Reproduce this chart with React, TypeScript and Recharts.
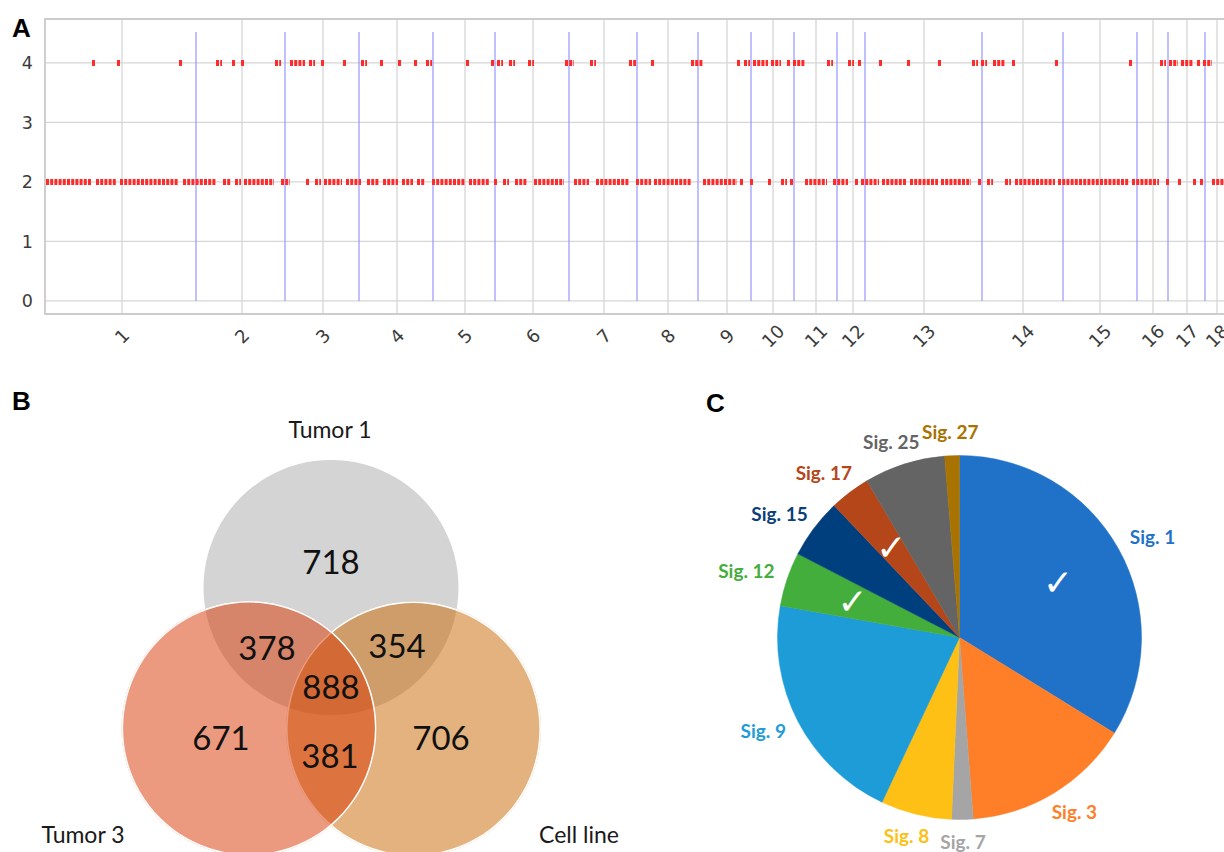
import React from 'react';
import {
  ComposedChart,
  XAxis,
  YAxis,
  CartesianGrid,
  ReferenceLine,
  ReferenceArea,
  PieChart,
  Pie,
  Cell,
} from 'recharts';

// ---- panel A: copy number along the genome (x = genome bin position) ----
const chromLabels = ['1', '2', '3', '4', '5', '6', '7', '8', '9', '10', '11', '12', '13', '14', '15', '16', '17', '18'];
const chromCenters = [122, 242, 323, 397, 465, 533, 604, 668, 727, 773, 816, 853, 924, 1023, 1100, 1153, 1187, 1217];
const chromBoundaries = [196, 285, 359, 433, 495, 569, 637, 698, 751, 794, 837, 865, 982, 1063, 1137, 1168, 1205];
const copyNumberTicks = [0, 1, 2, 3, 4];

// runs of consecutive bins called at copy number 2 / 4 ([start, end])
const cn2Runs: [number, number][] = [
  [46, 92], [96, 117], [120, 178], [183, 216], [223, 231], [235, 241], [244, 274], [281, 290],
  [306, 309], [315, 321], [324, 342], [346, 361], [367, 379], [383, 398], [402, 413], [417, 425],
  [432, 465], [469, 490], [494, 497], [503, 509], [515, 527], [534, 564], [574, 589], [596, 629],
  [636, 651], [654, 691], [703, 737], [740, 743], [750, 753], [768, 771], [781, 787], [790, 793],
  [805, 827], [833, 848], [855, 858], [861, 879], [882, 907], [910, 938], [941, 971], [978, 981],
  [987, 993], [1005, 1011], [1015, 1055], [1058, 1129], [1132, 1159], [1166, 1169], [1178, 1181],
  [1193, 1196], [1200, 1203], [1212, 1226],
];
const cn4Runs: [number, number][] = [
  [92, 95], [117, 120], [179, 182], [216, 222], [232, 235], [241, 244], [275, 281], [290, 305],
  [309, 315], [321, 324], [343, 346], [361, 367], [380, 383], [398, 401], [414, 417], [426, 432],
  [466, 469], [491, 494], [497, 503], [509, 515], [528, 534], [565, 574], [590, 596], [629, 636],
  [651, 654], [691, 703], [737, 740], [744, 750], [753, 768], [771, 781], [787, 790], [793, 805],
  [827, 833], [848, 854], [858, 861], [879, 882], [907, 910], [938, 941], [972, 978], [981, 987],
  [993, 1005], [1012, 1015], [1055, 1058], [1129, 1132], [1160, 1166], [1169, 1178], [1181, 1193],
  [1197, 1200], [1203, 1212],
];

// ---- panel B: shared variants ----
const vennSets = ['Tumor 1', 'Tumor 3', 'Cell line'];
const vennRegionMembers = [[0], [1], [2], [0, 1], [0, 2], [1, 2], [0, 1, 2]];
const vennCounts = [718, 671, 706, 378, 354, 381, 888];

// ---- panel C: mutational signatures ----
const sigNames = ['Sig. 1', 'Sig. 3', 'Sig. 7', 'Sig. 8', 'Sig. 9', 'Sig. 12', 'Sig. 15', 'Sig. 17', 'Sig. 25', 'Sig. 27'];
const sigShares = [33.8, 15.0, 1.9, 6.3, 20.8, 4.8, 5.3, 3.6, 7.2, 1.3];
const sigChecked = [true, false, false, false, false, true, false, true, false, false];

// styling / layout
const sigColors = ['#1f72c8', '#fe7f28', '#a5a5a5', '#fec015', '#1e9cd8', '#44ae3c', '#003f7e', '#b5461a', '#646464', '#a87300'];
const sigLabelColors = ['#1f72c8', '#fe7f28', '#a5a5a5', '#fec015', '#1e9cd8', '#44ae3c', '#0c3f7a', '#b5461a', '#646464', '#a87300'];

const POS_MIN = 45;
const POS_MAX = 1228;
const CN_MIN = -0.219;
const CN_MAX = 4.739;
const BOUNDARY_TOP = 4.52;

const VENN_R = 127.5;
const vennCircles = [
  { cx: 331, cy: 207.5, fill: '#d4d4d4', opacity: 1, ring: false },
  { cx: 249, cy: 348.5, fill: 'rgb(215,53,0)', opacity: 0.5, ring: true },
  { cx: 413.5, cy: 349, fill: 'rgb(199,101,0)', opacity: 0.5, ring: true },
];
const vennDrawOrder = [0, 2, 1];
const vennRegionPos = [
  [331, 182], [221, 358], [441, 358], [267, 268], [397, 266], [330, 376], [331, 307],
];
const vennSetPos = [[330, 50], [83, 455], [579, 455]];

const RAD = Math.PI / 180;
const FONT_A = '"DejaVu Sans", sans-serif';
const FONT_BC = 'Lato, "Open Sans", sans-serif';

const ChromTick = ({ x, payload }: any) => {
  const label = chromLabels[chromCenters.indexOf(payload.value)];
  return (
    <text
      x={x}
      y={336}
      transform={`rotate(-45 ${x} 336)`}
      textAnchor="middle"
      dominantBaseline="central"
      fontSize={18}
      fontFamily={FONT_A}
      fill="#3b3b3b"
    >
      {label}
    </text>
  );
};

const CnTick = ({ y, payload }: any) => (
  <text x={33} y={y + 6.3} textAnchor="end" fontSize={17.5} fontFamily={FONT_A} fill="#3b3b3b">
    {payload.value}
  </text>
);

const SigLabel = (props: any) => {
  const { cx, cy, midAngle, outerRadius, index } = props;
  const ux = Math.cos(-midAngle * RAD);
  const uy = Math.sin(-midAngle * RAD);
  const name = sigNames[index];
  const halfW = name.length * 4.0;
  const halfH = 8;
  const r = outerRadius + 15;
  const lx = cx + ux * r + ux * halfW;
  const ly = cy + uy * r + uy * halfH;
  return (
    <g>
      <text
        x={lx}
        y={ly + 6.5}
        textAnchor="middle"
        fontSize={19}
        fontWeight={700}
        fontFamily={FONT_BC}
        fill={sigLabelColors[index]}
      >
        {name}
      </text>
      {sigChecked[index] && (
        <text
          x={cx + ux * 113}
          y={cy + uy * 113}
          textAnchor="middle"
          dominantBaseline="central"
          fontSize={36}
          fontFamily={FONT_A}
          fill="#ffffff"
        >
          ✓
        </text>
      )}
    </g>
  );
};

export default function App() {
  const sigData = sigNames.map((name, i) => ({ name, value: sigShares[i] }));
  const setTotals = vennSets.map((_, s) =>
    vennCounts.reduce((acc, c, i) => (vennRegionMembers[i].includes(s) ? acc + c : acc), 0)
  );

  return (
    <div
      style={{
        position: 'absolute',
        left: 0,
        top: 0,
        width: 1224,
        height: 852,
        background: '#ffffff',
        overflow: 'hidden',
      }}
    >
      {/* A */}
      <div style={{ position: 'absolute', left: 0, top: 0, width: 1224, height: 360, overflow: 'hidden' }}>
        <ComposedChart
          width={POS_MAX}
          height={360}
          data={chromCenters.map((p) => ({ pos: p }))}
          margin={{ top: 19, right: 0, bottom: 6, left: 0 }}
        >
          <CartesianGrid stroke="#d6d6d6" strokeWidth={1.3} />
          <XAxis
            type="number"
            dataKey="pos"
            domain={[POS_MIN, POS_MAX]}
            ticks={chromCenters}
            allowDataOverflow
            axisLine={false}
            tickLine={false}
            height={40}
            interval={0}
            tick={<ChromTick />}
          />
          <YAxis
            type="number"
            domain={[CN_MIN, CN_MAX]}
            ticks={copyNumberTicks}
            allowDataOverflow
            axisLine={false}
            tickLine={false}
            width={45}
            interval={0}
            tick={<CnTick />}
          />
          <ReferenceArea
            x1={POS_MIN}
            x2={POS_MAX}
            y1={CN_MIN}
            y2={CN_MAX}
            fill="none"
            stroke="#cccccc"
            strokeWidth={1.8}
            ifOverflow="visible"
          />
          {chromBoundaries.map((b) => (
            <ReferenceLine
              key={`b${b}`}
              segment={[{ x: b, y: 0 }, { x: b, y: BOUNDARY_TOP }]}
              stroke="#9696ff"
              strokeWidth={1.2}
            />
          ))}
          {cn2Runs.map(([s, e]) => (
            <ReferenceLine
              key={`c2-${s}`}
              segment={[{ x: s, y: 2 }, { x: e, y: 2 }]}
              stroke="#ff2b2b"
              strokeWidth={6}
              strokeDasharray="3 1.2"
            />
          ))}
          {cn4Runs.map(([s, e]) => (
            <ReferenceLine
              key={`c4-${s}`}
              segment={[{ x: s, y: 4 }, { x: e, y: 4 }]}
              stroke="#ff2b2b"
              strokeWidth={6}
              strokeDasharray="3 1.2"
            />
          ))}
        </ComposedChart>
      </div>

      {/* B */}
      <div style={{ position: 'absolute', left: 0, top: 380, width: 690, height: 472 }}>
        <PieChart width={690} height={472} margin={{ top: 0, right: 0, bottom: 0, left: 0 }}>
          {vennDrawOrder.map((i) => {
            const c = vennCircles[i];
            return [
              <Pie
                key={`set${i}`}
                data={[{ name: vennSets[i], value: setTotals[i] }]}
                dataKey="value"
                cx={c.cx}
                cy={c.cy}
                outerRadius={VENN_R}
                startAngle={90}
                endAngle={-270}
                stroke="none"
                isAnimationActive={false}
              >
                <Cell fill={c.fill} fillOpacity={c.opacity} />
              </Pie>,
              c.ring ? (
                <Pie
                  key={`ring${i}`}
                  data={[{ name: vennSets[i], value: setTotals[i] }]}
                  dataKey="value"
                  cx={c.cx}
                  cy={c.cy}
                  innerRadius={VENN_R - 1.6}
                  outerRadius={VENN_R}
                  startAngle={90}
                  endAngle={-270}
                  stroke="none"
                  isAnimationActive={false}
                >
                  <Cell fill="#ffffff" />
                </Pie>
              ) : null,
            ];
          })}
        </PieChart>
        <svg
          width={690}
          height={472}
          style={{ position: 'absolute', left: 0, top: 0, pointerEvents: 'none' }}
        >
          {vennCounts.map((n, i) => (
            <text
              key={`n${i}`}
              x={vennRegionPos[i][0]}
              y={vennRegionPos[i][1] + 12}
              textAnchor="middle"
              fontSize={33}
              fontFamily={FONT_BC}
              fill="#111111"
            >
              {n}
            </text>
          ))}
          {vennSets.map((s, i) => (
            <text
              key={`s${i}`}
              x={vennSetPos[i][0]}
              y={vennSetPos[i][1] + 8}
              textAnchor="middle"
              fontSize={23}
              fontFamily={FONT_BC}
              fill="#1a1a1a"
            >
              {s}
            </text>
          ))}
        </svg>
      </div>

      {/* C */}
      <div style={{ position: 'absolute', left: 690, top: 380 }}>
        <PieChart width={534} height={472} margin={{ top: 0, right: 0, bottom: 0, left: 0 }}>
          <Pie
            data={sigData}
            dataKey="value"
            cx={269.5}
            cy={257.5}
            outerRadius={182}
            startAngle={90}
            endAngle={-270}
            label={<SigLabel />}
            labelLine={false}
            isAnimationActive={false}
          >
            {sigData.map((d, i) => (
              <Cell key={d.name} fill={sigColors[i]} stroke={sigColors[i]} strokeWidth={0.5} />
            ))}
          </Pie>
        </PieChart>
      </div>

      {/* panel letters */}
      <svg
        width={1224}
        height={852}
        style={{ position: 'absolute', left: 0, top: 0, pointerEvents: 'none' }}
      >
        <g fontFamily='"Liberation Sans", Arial, sans-serif' fontWeight={700} fontSize={26} fill="#000">
          <text x={12} y={37}>A</text>
          <text x={12} y={410}>B</text>
          <text x={706} y={412}>C</text>
        </g>
      </svg>
    </div>
  );
}
